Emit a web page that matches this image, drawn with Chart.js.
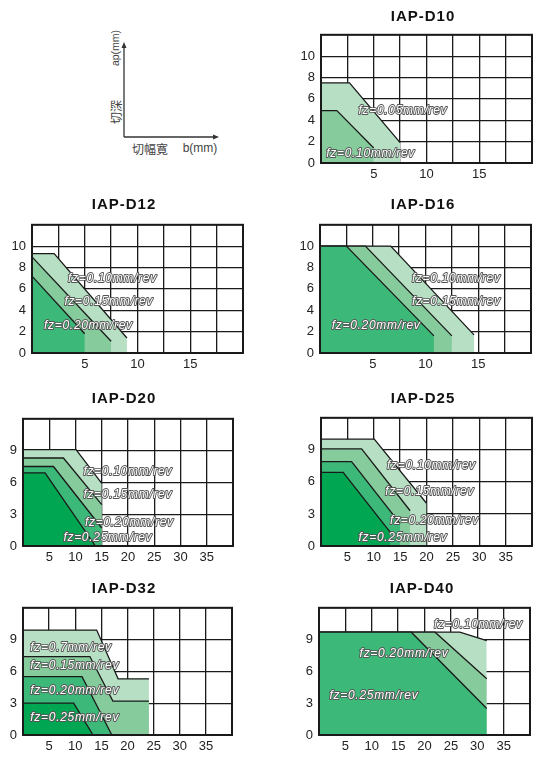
<!DOCTYPE html>
<html>
<head>
<meta charset="utf-8">
<script src="https://cdn.jsdelivr.net/npm/chart.js@4"></script>
<style>
  body { margin: 0; background: #fff; width: 540px; height: 757px; position: relative; overflow: hidden; font-family: "Liberation Sans", Arial, sans-serif; }
  canvas { position: absolute; }
  .ttl { position: absolute; font-weight: bold; font-size: 15px; letter-spacing: 1px; transform: translate(-50%, -50%); white-space: nowrap; color: #111; }
  svg { position: absolute; left: 0; top: 0; }
</style>
</head>
<body>

<svg width="540" height="190">
  <line x1="124" y1="137" x2="124" y2="47" stroke="#333" stroke-width="1.3"/>
  <polygon points="124,42 121.5,48 126.5,48" fill="#333"/>
  <line x1="124" y1="137" x2="214" y2="137" stroke="#333" stroke-width="1.3"/>
  <polygon points="219,137 213,134.5 213,139.5" fill="#333"/>
  <text transform="translate(115,48) rotate(-90)" text-anchor="middle" dominant-baseline="central" font-size="10.5" fill="#444">ap(mm)</text>
  <text transform="translate(115,112) rotate(-90)" text-anchor="middle" dominant-baseline="central" font-size="12" fill="#444" font-family="Noto Sans CJK JP">切深</text>
  <text x="150" y="148" text-anchor="middle" dominant-baseline="central" font-size="12" fill="#444" font-family="Noto Sans CJK JP">切幅寛</text>
  <text x="200" y="148" text-anchor="middle" dominant-baseline="central" font-size="12" fill="#444">b(mm)</text>
</svg>

<script>
// ---- data: [b (mm), ap (mm)] outline points of each fz region ----
const d10_f010 = [[0, 4.9], [1.5, 4.9], [5, 1.4], [5, 0]];
const d10_f005 = [[0, 7.5], [2.7, 7.5], [7.5, 1.9], [7.5, 0]];

const d12_f020 = [[0, 7.2], [5, 1.8], [5, 0]];
const d12_f015 = [[0, 9.0], [7.5, 1.1], [7.5, 0]];
const d12_f010 = [[0, 9.3], [2.1, 9.3], [9.0, 1.4], [9.0, 0]];

const d16_f020 = [[0, 10], [2.5, 10], [10.8, 1.6], [10.8, 0]];
const d16_f015 = [[0, 10], [4.3, 10], [12.5, 1.6], [12.5, 0]];
const d16_f010 = [[0, 10], [6.7, 10], [14.6, 1.7], [14.6, 0]];

const d20_f025 = [[0, 6.9], [4.2, 6.9], [13.8, 0]];
const d20_f020 = [[0, 7.5], [5.8, 7.5], [15, 1.7], [15, 0]];
const d20_f015 = [[0, 8.3], [7.7, 8.3], [15, 3.9], [15, 0]];
const d20_f010 = [[0, 9.1], [10.1, 9.1], [15, 5.9], [15, 0]];

const d25_f025 = [[0, 6.9], [4.2, 6.9], [13.1, 1.3], [13.1, 0]];
const d25_f020 = [[0, 7.9], [5.8, 7.9], [15, 2.1], [15, 0]];
const d25_f015 = [[0, 9.1], [7.7, 9.1], [16.9, 3.3], [16.9, 0]];
const d25_f010 = [[0, 10], [10.1, 10], [20, 4.0], [20, 0]];

const d32_f025 = [[0, 3.0], [9.7, 3.0], [13.4, 0]];
const d32_f020 = [[0, 5.5], [11.3, 5.5], [17, 0]];
const d32_f015 = [[0, 7.4], [12.8, 7.4], [17.2, 3.2], [24.1, 3.2], [24.1, 0]];
const d32_f07 = [[0, 9.9], [14.1, 9.9], [18.2, 5.3], [24.1, 5.3], [24.1, 0]];

const d40_f025 = [[0, 9.7], [17.5, 9.7], [31.8, 2.5], [31.8, 0]];
const d40_f020 = [[0, 9.7], [22, 9.7], [31.8, 5.3], [31.8, 0]];
const d40_f010 = [[0, 9.7], [26.7, 9.7], [31.8, 8.9], [31.8, 0]];

const smallXTicks = [5, 10, 15];
const largeXTicks = [5, 10, 15, 20, 25, 30, 35];
const smallYTicks = [0, 2, 4, 6, 8, 10];
const largeYTicks = [0, 3, 6, 9];

// ---- styles ----
const GREEN4 = '#00a651';
const GREEN3 = '#3cb878';
const GREEN2 = '#86cb9c';
const GREEN1 = '#b6dfc3';
const INK = '#1a1a1a';

const framePlugin = {
  id: 'frame',
  afterDraw(chart) {
    const a = chart.chartArea, c = chart.ctx;
    c.save();
    c.strokeStyle = INK;
    c.lineWidth = 2;
    c.strokeRect(a.left, a.top, a.right - a.left, a.bottom - a.top);
    c.restore();
  }
};

const fzLabelPlugin = {
  id: 'fzLabels',
  afterDraw(chart, args, opts) {
    const c = chart.ctx;
    const xs = chart.scales.x, ys = chart.scales.y;
    c.save();
    c.font = 'italic 12px "Liberation Sans", Arial, sans-serif';
    if ('letterSpacing' in c) c.letterSpacing = '0.7px';
    c.textBaseline = 'middle';
    c.lineJoin = 'round';
    (opts.items || []).forEach(it => {
      const px = xs.getPixelForValue(it.x);
      const py = ys.getPixelForValue(it.y);
      c.strokeStyle = '#555';
      c.lineWidth = 1.8;
      c.strokeText(it.text, px, py);
      c.fillStyle = '#fff';
      c.fillText(it.text, px, py);
    });
    c.restore();
  }
};

function makeChart(cfg) {
  const box = cfg.box;
  const padL = 32, padT = 4, padR = 6, padB = 22;
  const cv = document.createElement('canvas');
  cv.width = box.r - box.l + padL + padR;
  cv.height = box.b - box.t + padT + padB;
  cv.style.left = (box.l - padL) + 'px';
  cv.style.top = (box.t - padT) + 'px';
  document.body.appendChild(cv);

  const t = document.createElement('div');
  t.className = 'ttl';
  t.textContent = cfg.title;
  t.style.left = cfg.titlePos[0] + 'px';
  t.style.top = cfg.titlePos[1] + 'px';
  document.body.appendChild(t);

  const datasets = cfg.series.map((s, i) => ({
    data: s.map(p => ({ x: p[0], y: p[1] })),
    backgroundColor: cfg.colors[i],
    fill: 'origin',
    borderWidth: 1.3,
    borderColor: INK,
    pointRadius: 0,
    tension: 0,
    segment: {
      borderColor: c => c.p0.parsed.x === c.p1.parsed.x ? 'rgba(0,0,0,0)' : INK
    }
  }));

  new Chart(cv, {
    type: 'line',
    data: { datasets },
    options: {
      responsive: false,
      animation: false,
      devicePixelRatio: 1,
      layout: { padding: { left: 0, top: padT, right: padR, bottom: 0 } },
      plugins: {
        legend: { display: false },
        tooltip: { enabled: false },
        fzLabels: { items: cfg.labels }
      },
      scales: {
        x: {
          type: 'linear',
          min: 0,
          max: cfg.xMax,
          z: 1,
          afterFit: a => { a.height = padB; },
          border: { display: false },
          grid: { color: INK, lineWidth: 1.3, drawTicks: false },
          ticks: {
            stepSize: cfg.xStep,
            autoSkip: false,
            maxRotation: 0,
            padding: 4,
            color: '#222',
            font: { size: 13, family: '"Liberation Sans", Arial, sans-serif' },
            callback: v => cfg.xTicks.includes(v) ? String(v) : ''
          }
        },
        y: {
          min: 0,
          max: 12,
          z: 1,
          afterFit: a => { a.width = padL; },
          border: { display: false },
          grid: { color: INK, lineWidth: 1.3, drawTicks: false },
          ticks: {
            stepSize: cfg.yStep,
            autoSkip: false,
            padding: 6,
            color: '#222',
            font: { size: 13, family: '"Liberation Sans", Arial, sans-serif' },
            callback: v => cfg.yTicks.includes(v) ? String(v) : ''
          }
        }
      }
    },
    plugins: [framePlugin, fzLabelPlugin]
  });
}

makeChart({
  title: 'IAP-D10', titlePos: [423, 15],
  box: { l: 321, t: 25, r: 532, b: 163 },
  xMax: 20, xStep: 2.5, yStep: 2, xTicks: smallXTicks, yTicks: smallYTicks,
  series: [d10_f010, d10_f005], colors: [GREEN2, GREEN1],
  labels: [
    { text: 'fz=0.05mm/rev', x: 3.55, y: 4.86 },
    { text: 'fz=0.10mm/rev', x: 0.5, y: 0.87 }
  ]
});

makeChart({
  title: 'IAP-D12', titlePos: [124, 203],
  box: { l: 32, t: 215, r: 243, b: 353 },
  xMax: 20, xStep: 2.5, yStep: 2, xTicks: smallXTicks, yTicks: smallYTicks,
  series: [d12_f020, d12_f015, d12_f010], colors: [GREEN3, GREEN2, GREEN1],
  labels: [
    { text: 'fz=0.10mm/rev', x: 3.42, y: 7.0 },
    { text: 'fz=0.15mm/rev', x: 3.07, y: 4.8 },
    { text: 'fz=0.20mm/rev', x: 1.14, y: 2.6 }
  ]
});

makeChart({
  title: 'IAP-D16', titlePos: [423, 203],
  box: { l: 320, t: 215, r: 531, b: 353 },
  xMax: 20, xStep: 2.5, yStep: 2, xTicks: smallXTicks, yTicks: smallYTicks,
  series: [d16_f020, d16_f015, d16_f010], colors: [GREEN3, GREEN2, GREEN1],
  labels: [
    { text: 'fz=0.10mm/rev', x: 8.71, y: 6.98 },
    { text: 'fz=0.15mm/rev', x: 8.71, y: 4.8 },
    { text: 'fz=0.20mm/rev', x: 1.11, y: 2.6 }
  ]
});

makeChart({
  title: 'IAP-D20', titlePos: [124, 397],
  box: { l: 23, t: 409, r: 233, b: 546 },
  xMax: 40, xStep: 5, yStep: 3, xTicks: largeXTicks, yTicks: largeYTicks,
  series: [d20_f025, d20_f020, d20_f015, d20_f010], colors: [GREEN4, GREEN3, GREEN2, GREEN1],
  labels: [
    { text: 'fz=0.10mm/rev', x: 11.5, y: 7.05 },
    { text: 'fz=0.15mm/rev', x: 11.5, y: 4.87 },
    { text: 'fz=0.20mm/rev', x: 11.8, y: 2.24 },
    { text: 'fz=0.25mm/rev', x: 7.7, y: 0.78 }
  ]
});

makeChart({
  title: 'IAP-D25', titlePos: [423, 397],
  box: { l: 321, t: 408, r: 532, b: 546 },
  xMax: 40, xStep: 5, yStep: 3, xTicks: largeXTicks, yTicks: largeYTicks,
  series: [d25_f025, d25_f020, d25_f015, d25_f010], colors: [GREEN4, GREEN3, GREEN2, GREEN1],
  labels: [
    { text: 'fz=0.10mm/rev', x: 12.5, y: 7.5 },
    { text: 'fz=0.15mm/rev', x: 12.2, y: 5.1 },
    { text: 'fz=0.20mm/rev', x: 13.1, y: 2.4 },
    { text: 'fz=0.25mm/rev', x: 7.1, y: 0.79 }
  ]
});

makeChart({
  title: 'IAP-D32', titlePos: [124, 587],
  box: { l: 23, t: 598, r: 232, b: 735 },
  xMax: 40, xStep: 5, yStep: 3, xTicks: largeXTicks, yTicks: largeYTicks,
  series: [d32_f025, d32_f020, d32_f015, d32_f07], colors: [GREEN4, GREEN3, GREEN2, GREEN1],
  labels: [
    { text: 'fz=0.7mm/rev', x: 1.4, y: 8.25 },
    { text: 'fz=0.15mm/rev', x: 1.4, y: 6.5 },
    { text: 'fz=0.20mm/rev', x: 1.4, y: 4.2 },
    { text: 'fz=0.25mm/rev', x: 1.4, y: 1.6 }
  ]
});

makeChart({
  title: 'IAP-D40', titlePos: [422, 587],
  box: { l: 319, t: 598, r: 530, b: 735 },
  xMax: 40, xStep: 5, yStep: 3, xTicks: largeXTicks, yTicks: largeYTicks,
  series: [d40_f025, d40_f020, d40_f010], colors: [GREEN3, GREEN2, GREEN1],
  labels: [
    { text: 'fz=0.10mm/rev', x: 21.8, y: 10.4 },
    { text: 'fz=0.20mm/rev', x: 7.7, y: 7.7 },
    { text: 'fz=0.25mm/rev', x: 2.0, y: 3.7 }
  ]
});
</script>
</body>
</html>
